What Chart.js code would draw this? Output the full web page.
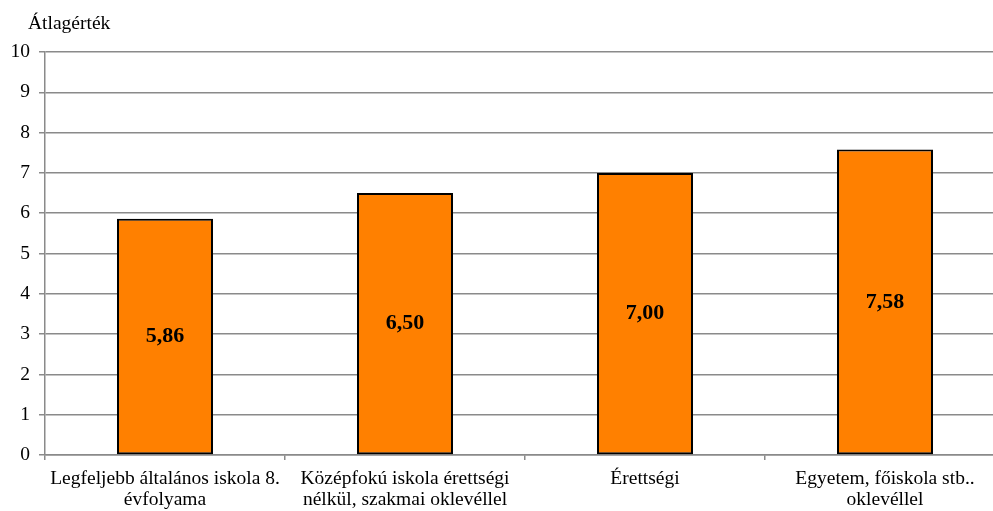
<!DOCTYPE html>
<html lang="hu">
<head>
<meta charset="utf-8">
<title>Átlagérték iskolai végzettség szerint</title>
<script src="https://cdn.jsdelivr.net/npm/chart.js@4/dist/chart.umd.min.js"></script>
<style>
  html, body { margin: 0; padding: 0; background: #fff; overflow: hidden; }
  #wrap { width: 1010px; height: 511px; }
</style>
</head>
<body>
<div id="wrap"><canvas id="c" width="1010" height="511"></canvas></div>
<script>
// Végzettségi kategóriák (többsoros feliratok)
const categories = [
  ["Legfeljebb általános iskola 8.", "évfolyama"],
  ["Középfokú iskola érettségi", "nélkül, szakmai oklevéllel"],
  ["Érettségi"],
  ["Egyetem, főiskola stb..", "oklevéllel"]
];
// Átlagértékek
const averages = [5.86, 6.50, 7.00, 7.58];
// Y tengely beosztása
const yTicks = [0, 1, 2, 3, 4, 5, 6, 7, 8, 9, 10];

const axisTitle = "Átlagérték";
const serif = "'Liberation Serif', 'Times New Roman', serif";
const gridGray = "#8a8a8a";

const fmt = v => v.toFixed(2).replace(".", ",");

// Tengelycím a bal felső sarokban
const axisTitlePlugin = {
  id: "axisTitle",
  afterDraw(chart) {
    const ctx = chart.ctx;
    ctx.save();
    ctx.font = "19.5px " + serif;
    ctx.fillStyle = "#000";
    ctx.textBaseline = "middle";
    ctx.textAlign = "left";
    ctx.fillText(axisTitle, 28, 24);
    ctx.restore();
  }
};

// Értékfeliratok az oszlopok közepén
const valueLabels = {
  id: "valueLabels",
  afterDatasetsDraw(chart) {
    const ctx = chart.ctx;
    const meta = chart.getDatasetMeta(0);
    ctx.save();
    ctx.font = "bold 22px " + serif;
    ctx.fillStyle = "#000";
    ctx.textAlign = "center";
    ctx.textBaseline = "middle";
    meta.data.forEach((bar, i) => {
      const mid = (bar.y + bar.base) / 2;
      ctx.fillText(fmt(averages[i]), bar.x, mid);
    });
    ctx.restore();
  }
};

new Chart(document.getElementById("c"), {
  type: "bar",
  data: {
    labels: categories,
    datasets: [{
      data: averages,
      backgroundColor: "#FF8000",
      borderColor: "#000",
      borderWidth: 2,
      borderSkipped: false,
      barPercentage: 0.4,
      categoryPercentage: 1.0
    }]
  },
  options: {
    responsive: false,
    animation: false,
    layout: { padding: { top: 52, right: 5, left: 0, bottom: 0 } },
    plugins: {
      legend: { display: false },
      tooltip: { enabled: false },
      title: { display: false }
    },
    scales: {
      y: {
        min: 0,
        max: 10,
        afterBuildTicks(scale) { scale.ticks = yTicks.map(v => ({ value: v })); },
        afterFit(scale) { scale.width = 45; },
        ticks: {
          color: "#000",
          font: { family: serif, size: 19.5 },
          padding: 9
        },
        grid: {
          color: gridGray,
          lineWidth: 1.5,
          tickLength: 6,
          tickColor: gridGray
        },
        border: { display: true, color: gridGray, width: 1.5 }
      },
      x: {
        afterFit(scale) { scale.height = 56; },
        ticks: {
          color: "#000",
          font: { family: serif, size: 19.5, lineHeight: 1.08 },
          padding: 8,
          maxRotation: 0,
          autoSkip: false
        },
        grid: {
          offset: true,
          drawOnChartArea: false,
          drawTicks: true,
          tickLength: 5,
          tickColor: gridGray,
          lineWidth: 1.5
        },
        border: { display: true, color: gridGray, width: 1.5 }
      }
    }
  },
  plugins: [axisTitlePlugin, valueLabels]
});
</script>
</body>
</html>
